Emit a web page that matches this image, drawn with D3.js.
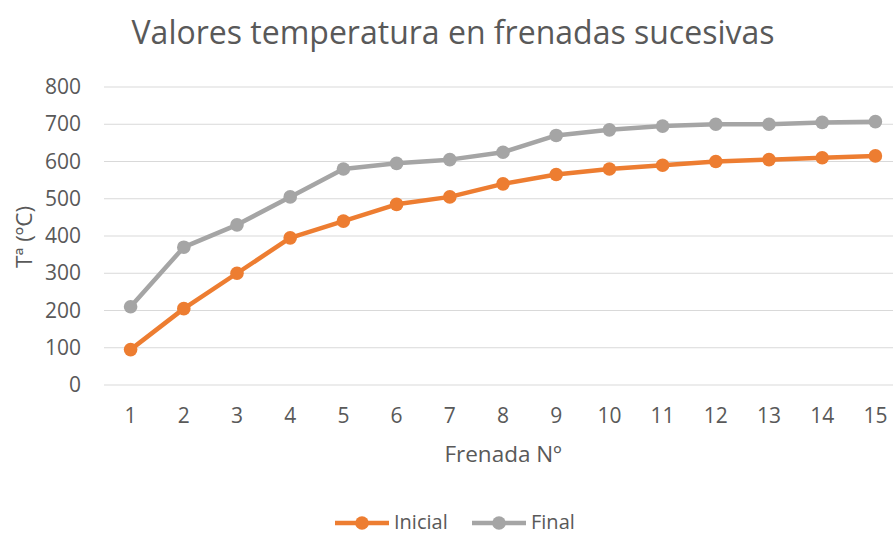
<!DOCTYPE html>
<html><head><meta charset="utf-8">
<script src="https://cdn.jsdelivr.net/npm/d3@7"></script>
<style>body{margin:0;background:#fff;} text{font-family:"Open Sans",sans-serif;fill:#595959;}</style>
</head><body>
<svg id="c" width="893" height="534"></svg>
<script>
const categories = ["1","2","3","4","5","6","7","8","9","10","11","12","13","14","15"];
const inicial = [95,205,300,395,440,485,505,540,565,580,590,600,605,610,615];
const final_ = [210,370,430,505,580,595,605,625,670,685,695,700,700,705,707];
const yTicks = [0,100,200,300,400,500,600,700,800];
const seriesNames = ["Inicial","Final"];
const colors = ["#ED7D31","#A5A5A5"];

(function(){
const svg = d3.select("#c");
const pLeft = 104, pRight = 902, pTop = 87, pBottom = 385;
const x = d3.scaleBand().domain(categories).range([pLeft, pRight]).padding(0);
const y = d3.scaleLinear().domain([0,800]).range([pBottom, pTop]);

svg.append("text").attr("x",453).attr("y",44).attr("text-anchor","middle")
  .attr("font-size",32).text("Valores temperatura en frenadas sucesivas");

const grid = svg.append("g");
grid.selectAll("line").data(yTicks).join("line")
  .attr("x1",pLeft).attr("x2",pRight).attr("y1",d=>y(d)).attr("y2",d=>y(d))
  .attr("stroke","#D9D9D9").attr("stroke-width",1.2);

const ya = svg.append("g").attr("transform",`translate(${pLeft},0)`)
  .call(d3.axisLeft(y).tickValues(yTicks).tickSize(0).tickPadding(23));
ya.select(".domain").remove();
ya.selectAll("text").attr("font-size",21).style("font-family","'Open Sans',sans-serif").attr("fill","#595959");

const xa = svg.append("g").attr("transform",`translate(0,${pBottom})`)
  .call(d3.axisBottom(x).tickSize(0).tickPadding(23));
xa.select(".domain").remove();
xa.selectAll("text").attr("font-size",21).style("font-family","'Open Sans',sans-serif").attr("fill","#595959");

svg.append("text").attr("x",503).attr("y",462).attr("text-anchor","middle")
  .attr("font-size",22.5).text("Frenada Nº");
svg.append("text").attr("transform","translate(32,237) rotate(-90)").attr("text-anchor","middle")
  .attr("font-size",22.5).text("Tª (ºC)");

const cx = d => x(d) + x.bandwidth()/2;
const line = d3.line().x((d,i)=>cx(categories[i])).y(d=>y(d));
[final_, inicial].forEach((data, k) => {
  const col = k===0 ? colors[1] : colors[0];
  svg.append("path").datum(data).attr("d",line).attr("fill","none")
    .attr("stroke",col).attr("stroke-width",4.5).attr("stroke-linejoin","round");
  svg.append("g").selectAll("circle").data(data).join("circle")
    .attr("cx",(d,i)=>cx(categories[i])).attr("cy",d=>y(d)).attr("r",6.8).attr("fill",col);
});

const legend = [{name:seriesNames[0],color:colors[0],x0:335},{name:seriesNames[1],color:colors[1],x0:472}];
legend.forEach(l=>{
  const g = svg.append("g");
  g.append("line").attr("x1",l.x0).attr("x2",l.x0+54).attr("y1",523).attr("y2",523)
    .attr("stroke",l.color).attr("stroke-width",4.5);
  g.append("circle").attr("cx",l.x0+27).attr("cy",523).attr("r",6.8).attr("fill",l.color);
  g.append("text").attr("x",l.x0+59).attr("y",528.5).attr("font-size",20).text(l.name);
});
})();
</script>
</body></html>
